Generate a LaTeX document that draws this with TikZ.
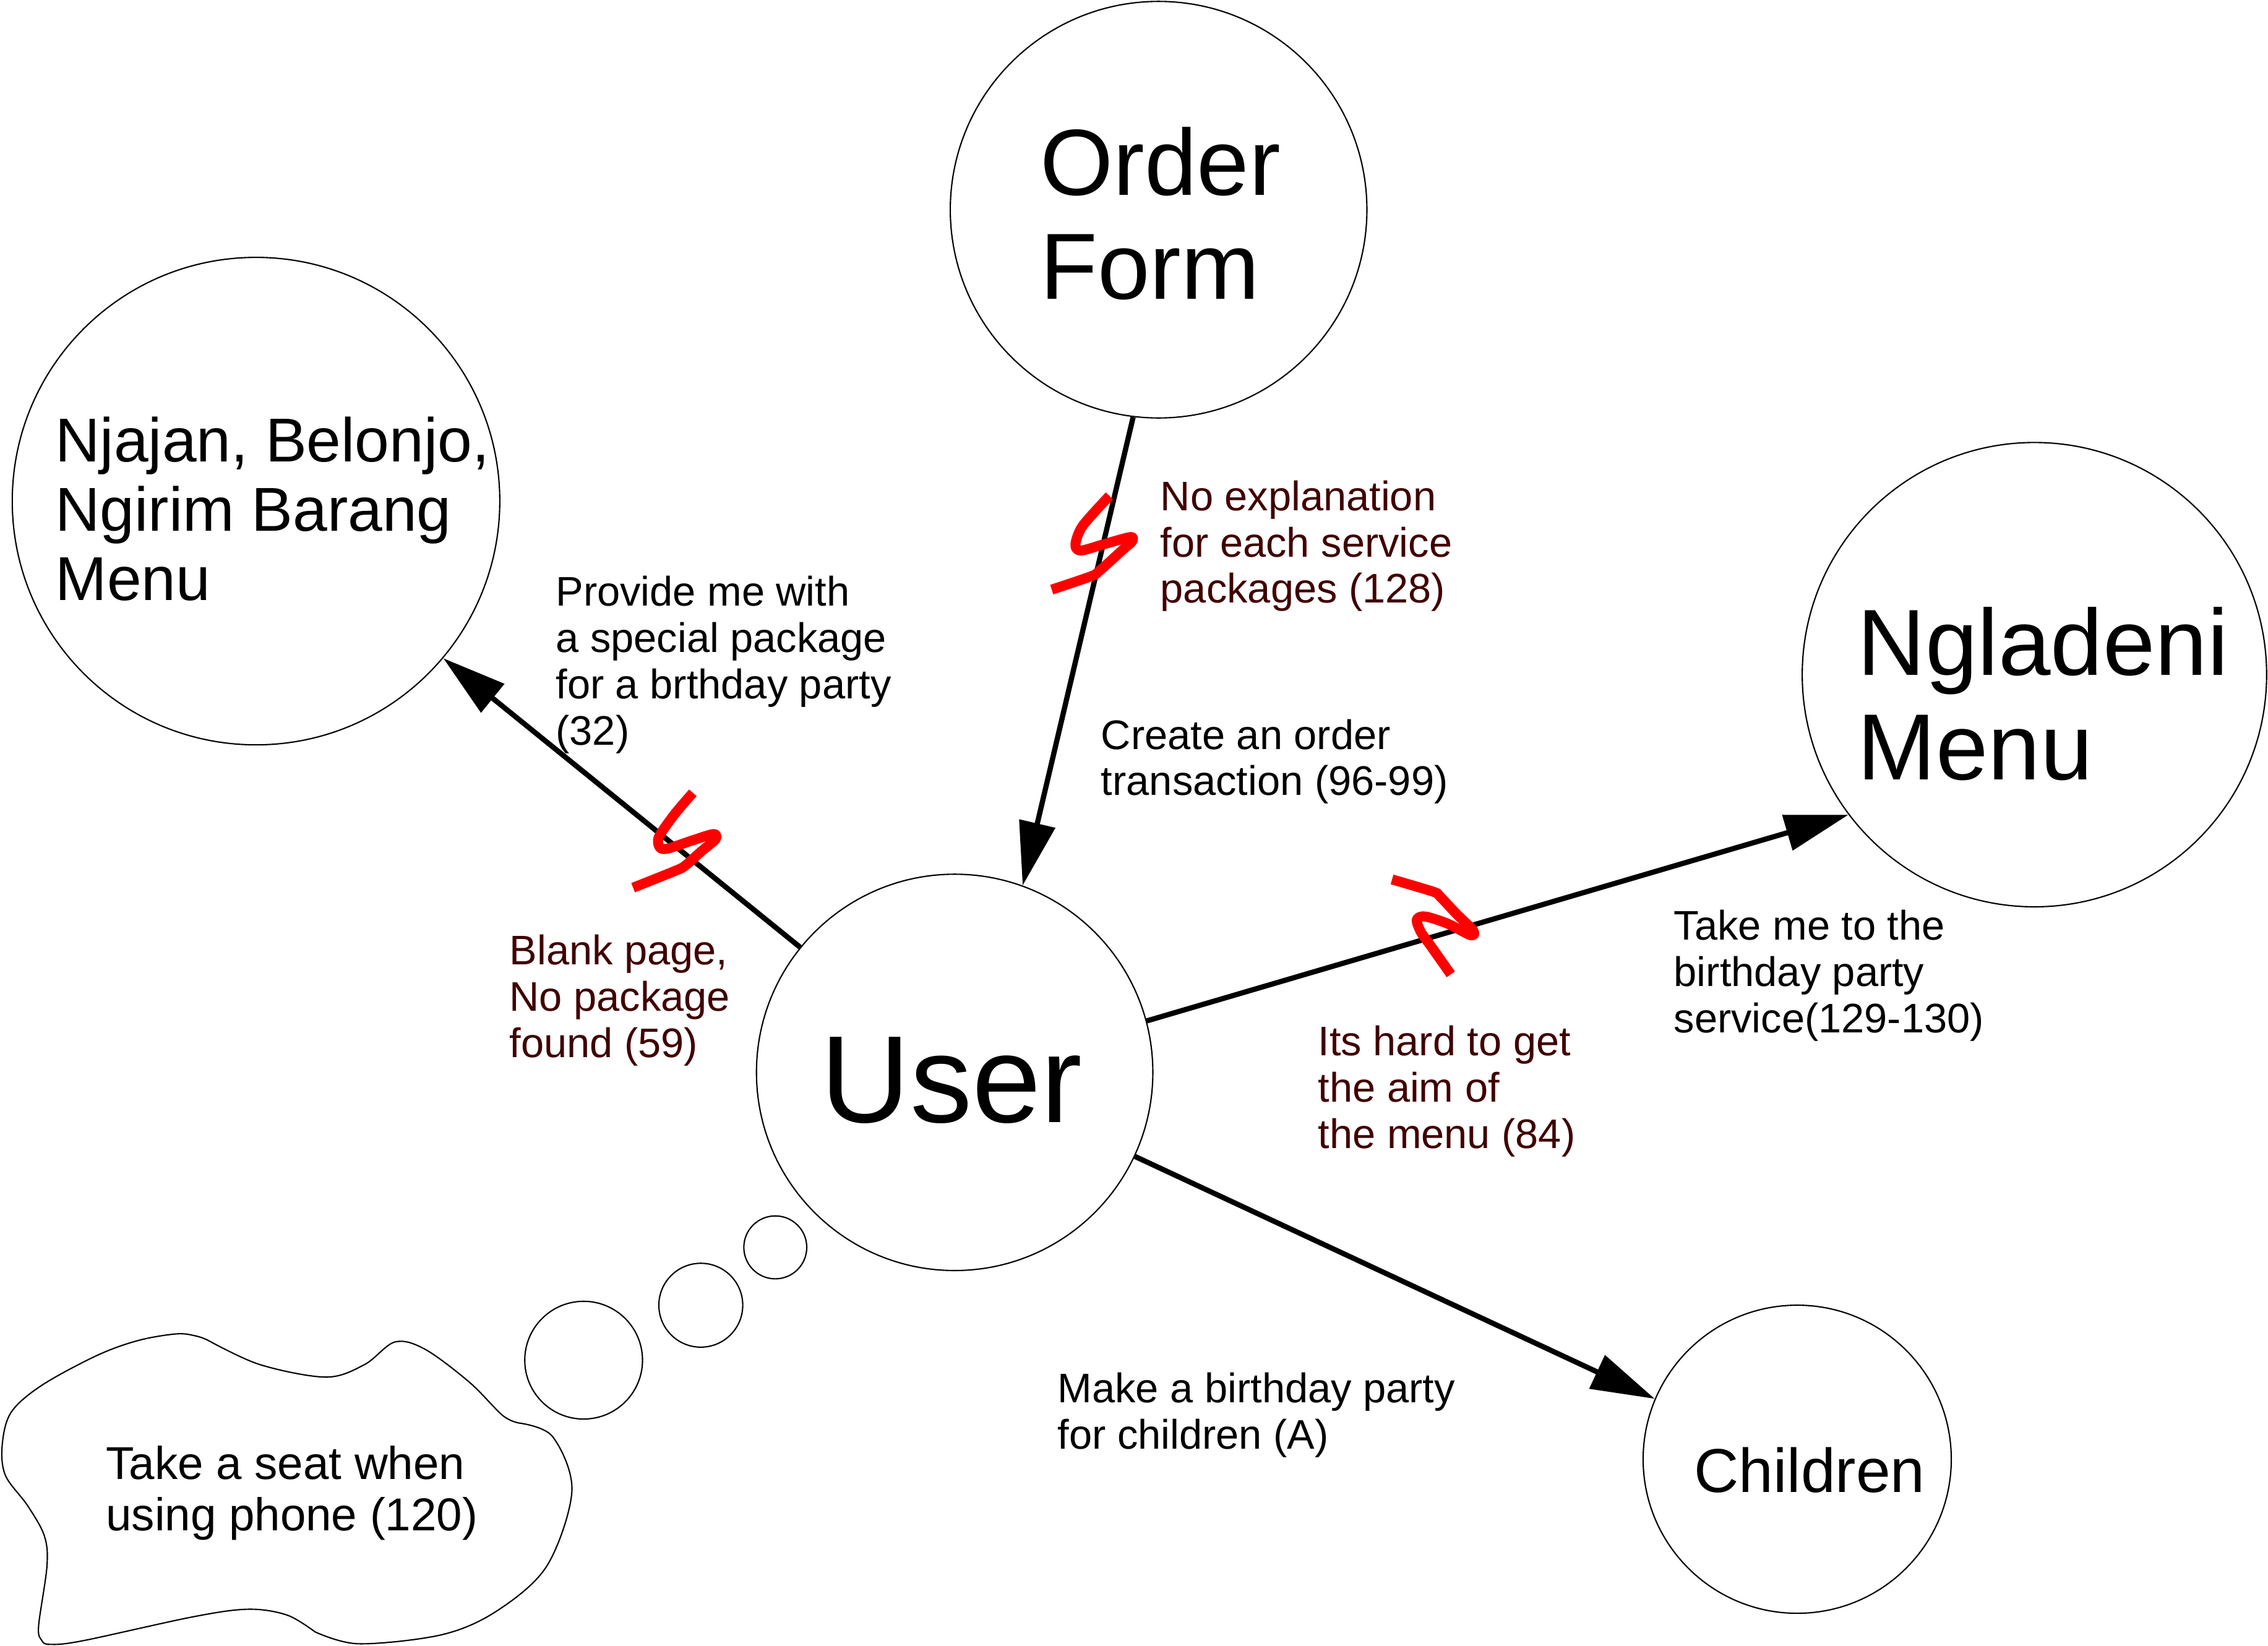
\documentclass[tikz,border=0pt]{standalone}
\usepackage{fontspec}
\setmainfont{Liberation Sans}
\usetikzlibrary{arrows.meta}
\definecolor{darkred}{RGB}{64,0,0}
\begin{document}
\begin{tikzpicture}[x=0.02338cm,y=-0.02338cm,
  bubble/.style={circle,draw,line width=0.6pt,inner sep=0pt,fill=white},
  arr/.style={line width=2.4pt,-{Triangle[length=1.03cm,width=0.58cm]}},
  squig/.style={red,line width=4.6pt,line cap=butt,line join=round},
  lbl/.style={font=\fontsize{19}{21.3}\selectfont,align=left,anchor=base west,inner sep=0pt},
  bad/.style={lbl,text=darkred},
  bigtxt/.style={font=\fontsize{43.2}{47.9}\selectfont,align=left,anchor=base west,inner sep=0pt},
  midtxt/.style={font=\fontsize{28.5}{31.9}\selectfont,align=left,anchor=base west,inner sep=0pt},
]
\useasboundingbox (0,0) rectangle (1568,1138);

% circles
\node[bubble,minimum size=6.733cm] (order) at (801,145) {};
\node[bubble,minimum size=7.879cm] (njajan) at (177,346.5) {};
\node[bubble,minimum size=7.505cm] (ngladeni) at (1406.5,466.5) {};
\node[bubble,minimum size=6.406cm] (user) at (660,741.5) {};
\node[bubble,minimum size=4.980cm] (children) at (1242.5,1009) {};

% thought bubbles
\node[bubble,minimum size=1.017cm] (t1) at (536,862.5) {};
\node[bubble,minimum size=1.356cm] (t2) at (484.5,902.5) {};
\node[bubble,minimum size=1.903cm] (t3) at (403.5,940.5) {};

% cloud
\draw[line width=0.6pt,fill=white]
  plot[smooth,tension=0.55] coordinates {(143.3,926.5) (179.5,943.5) (225.4,952.2) (252.1,943.5) (273.1,927.9) (294.1,933.1) (324.7,955.9) (347.6,978.8) (359.1,984)}
  -- plot[smooth,tension=0.55] coordinates {(359.1,984) (382,993.3) (395.4,1030.7) (378.2,1082.6) (343.8,1113.7) (305.6,1130.3) (248,1136.6) (217.7,1128.3)}
  -- plot[smooth,tension=0.55] coordinates {(217.7,1128.3) (198.6,1116.8) (171.9,1112.7) (133.7,1117.9) (57.3,1134.5) (34.4,1137) (28.7,1134) (26.7,1124.1) (32.5,1082.6) (30.6,1061.8) (19.1,1041.1) (3.8,1020.3) (1.5,999.5) (7.6,976.7) (28.7,958) (66.9,937.3) (95.5,926.9) (122.2,922.3) (135.6,923.8) (143.3,926.5)}
  -- cycle;
\node[font=\fontsize{21.2}{23.6}\selectfont,align=left,anchor=base west,inner sep=0pt] (cloudtxt) at (73,1058.5) {Take a seat when\\using phone (120)};

% node texts (base anchor = last line baseline)
\node[bigtxt] (ordertxt) at (719,207) {Order\\Form};
\node[midtxt] (njajantxt) at (38,415) {Njajan, Belonjo,\\Ngirim Barang\\Menu};
\node[bigtxt] (ngladenitxt) at (1284,539) {Ngladeni\\Menu};
\node[font=\fontsize{57}{64}\selectfont,anchor=base west,inner sep=0pt] (usertxt) at (567,776) {User};
\node[midtxt] (childrentxt) at (1171,1032) {Children};

% connectors
\draw[arr] (user.141) -- (njajan.-40);
\draw[arr] (order.-97) -- (user.70);
\draw[arr] (user.15) -- (ngladeni.-143);
\draw[arr] (user.-25) -- (children.157);

% red marks
\draw[squig] plot[smooth,tension=0.5] coordinates {(767.0,342.9) (748.5,363.6) (743.5,376.4) (747.1,380.7) (762.8,376.4) (781.3,371.4) (782.7,374.3) (775.6,380.7) (759.9,394.9) (754.2,398.5) (727.1,407.7)};
\draw[squig] plot[smooth,tension=0.5] coordinates {(479.0,548.2) (466.2,563.2) (455.5,578.8) (456.2,586.0) (461.9,586.7) (479.0,581.0) (493.3,576.7) (494.7,580.3) (484.7,588.8) (473.4,598.8) (466.2,602.4) (437.7,613.8)};
\draw[squig] plot[smooth,tension=0.5] coordinates {(962.4,608.1) (990.9,616.6) (995.2,619.5) (1006.6,631.6) (1018.7,643.7) (1016.5,646.6) (1000.9,638.7) (985.2,633.7) (979.5,635.9) (982.3,644.4) (989.4,654.4) (1003.0,673.7)};

% labels
\node[lbl] (l32) at (384,515) {Provide me with\\a special package\\for a brthday party\\(32)};
\node[bad] (l128) at (802,417) {No explanation\\for each service\\packages (128)};
\node[lbl] (l96) at (761,550) {Create an order\\transaction (96-99)};
\node[bad] (l59) at (352,731) {Blank page,\\No package\\found (59)};
\node[bad] (l84) at (911,794) {Its hard to get\\the aim of\\the menu (84)};
\node[lbl] (l129) at (1157,714) {Take me to the\\birthday party\\service(129-130)};
\node[lbl] (lA) at (731,1002) {Make a birthday party\\for children (A)};
\end{tikzpicture}
\end{document}
